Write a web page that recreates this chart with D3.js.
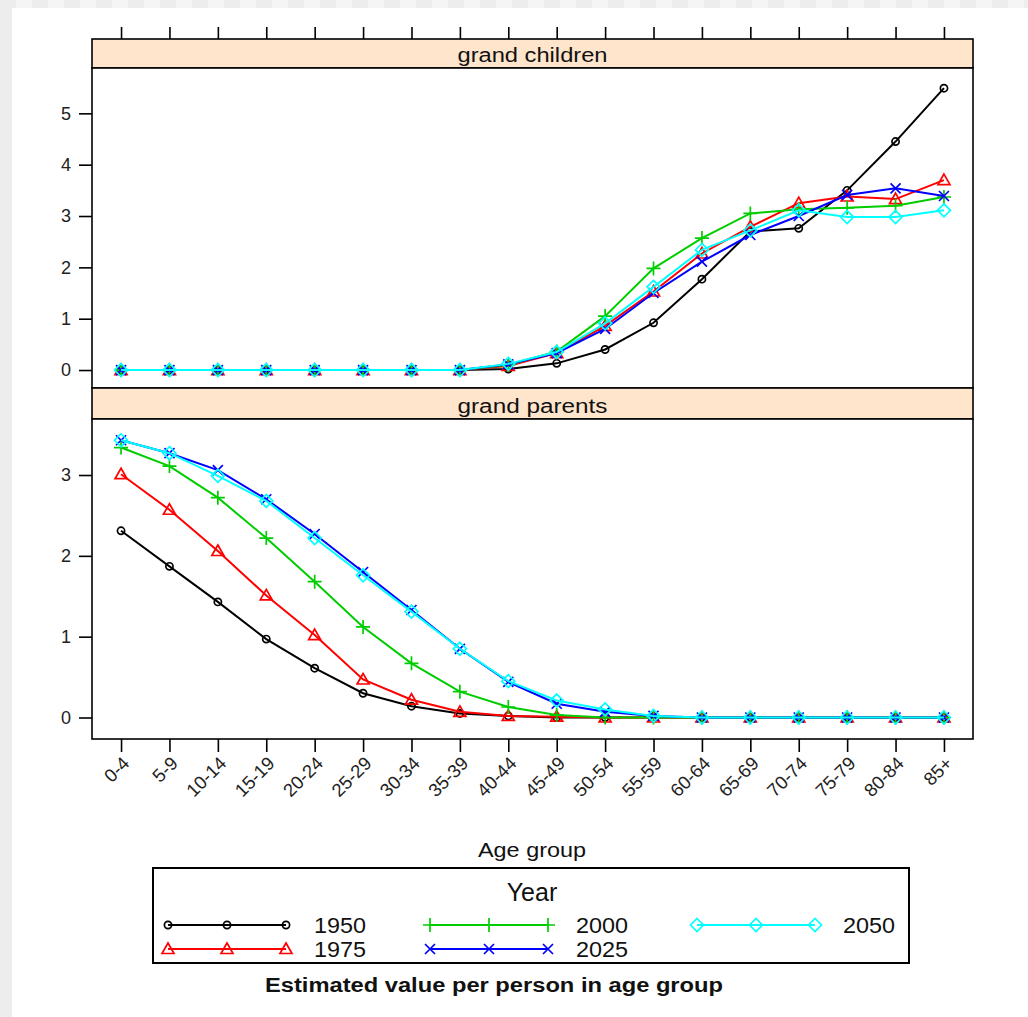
<!DOCTYPE html>
<html><head><meta charset="utf-8">
<script src="https://cdn.jsdelivr.net/npm/d3@7"></script>
<style>html,body{margin:0;padding:0;background:#fff}svg{display:block}text{font-family:"Liberation Sans",Arial,sans-serif}</style>
</head><body>
<script>
const ageGroups = ["0-4","5-9","10-14","15-19","20-24","25-29","30-34","35-39","40-44","45-49","50-54","55-59","60-64","65-69","70-74","75-79","80-84","85+"];
const years = ["1950","1975","2000","2025","2050"];
const yearColors = ["#000000","#ff0000","#00cd00","#0000ff","#00ffff"];
const yearSymbols = ["circle","triangle","plus","cross","diamond"];
const panelNames = ["grand children","grand parents"];
const topTicks = [0,1,2,3,4,5];
const bottomTicks = [0,1,2,3];

const gc1950 = [0,0,0,0,0,0,0,0,0.02,0.13,0.40,0.92,1.77,2.70,2.76,3.50,4.45,5.49];
const gc1975 = [0,0,0,0,0,0,0,0,0.08,0.33,0.86,1.53,2.27,2.79,3.25,3.38,3.33,3.70];
const gc2000 = [0,0,0,0,0,0,0,0,0.10,0.36,1.05,1.98,2.57,3.05,3.13,3.16,3.20,3.37];
const gc2025 = [0,0,0,0,0,0,0,0,0.11,0.33,0.80,1.50,2.11,2.63,3.00,3.41,3.54,3.39];
const gc2050 = [0,0,0,0,0,0,0,0,0.12,0.35,0.91,1.62,2.34,2.72,3.11,2.98,2.98,3.11];

const gp1950 = [2.31,1.87,1.43,0.97,0.61,0.30,0.14,0.05,0.02,0,0,0,0,0,0,0,0,0];
const gp1975 = [3.01,2.57,2.06,1.51,1.02,0.47,0.22,0.07,0.02,0.01,0,0,0,0,0,0,0,0];
const gp2000 = [3.34,3.11,2.72,2.22,1.68,1.12,0.67,0.32,0.13,0.03,0,0,0,0,0,0,0,0];
const gp2025 = [3.43,3.27,3.06,2.70,2.27,1.80,1.33,0.85,0.44,0.17,0.07,0.02,0,0,0,0,0,0];
const gp2050 = [3.43,3.27,2.99,2.68,2.22,1.76,1.31,0.85,0.45,0.21,0.10,0.02,0,0,0,0,0,0];

const grandChildren = [gc1950,gc1975,gc2000,gc2025,gc2050];
const grandParents = [gp1950,gp1975,gp2000,gp2025,gp2050];

const W = 1028, H = 1017;
const svg = d3.select("body").append("svg").attr("width",W).attr("height",H);

// page background (checker strip + white sheet)
const defs = svg.append("defs");
const pat = defs.append("pattern").attr("id","chk").attr("width",32).attr("height",16).attr("patternUnits","userSpaceOnUse");
pat.append("rect").attr("width",32).attr("height",16).attr("fill","#ededed");
pat.append("rect").attr("x",16).attr("width",16).attr("height",16).attr("fill","#f5f5f5");
svg.append("rect").attr("width",W).attr("height",H).attr("fill","url(#chk)");
svg.append("rect").attr("x",12).attr("y",8).attr("width",W-12).attr("height",H-8).attr("fill","#fff");

const L = 92, R = 973;
const x = d3.scaleLinear().domain([0.4, 18.6]).range([L, R]);

const panels = [
  {name: panelNames[0], data: grandChildren, stripTop: 39, top: 68, bottom: 388, y: d3.scaleLinear().domain([-0.35, 5.883]).range([388, 68]), ticks: topTicks},
  {name: panelNames[1], data: grandParents, stripTop: 388, top: 419, bottom: 739, y: d3.scaleLinear().domain([-0.266, 3.693]).range([739, 419]), ticks: bottomTicks}
];

function symbolPath(type) {
  switch (type) {
    case "circle": return d3.symbol().type(d3.symbolCircle).size(Math.PI*3.6*3.6)();
    case "triangle": return "M0,-6L6,4.5L-6,4.5Z";
    case "plus": return "M-7,0H7M0,-7V7";
    case "cross": return "M-5,-5L5,5M-5,5L5,-5";
    case "diamond": return "M0,-6.5L6.5,0L0,6.5L-6.5,0Z";
  }
}

panels.forEach(p => {
  // strip
  svg.append("rect").attr("x",L).attr("y",p.stripTop).attr("width",R-L).attr("height",p.top-p.stripTop)
    .attr("fill","#ffe5cc").attr("stroke","#000").attr("stroke-width",1.6);
  svg.append("text").attr("x",(L+R)/2).attr("y",p.top-6).attr("text-anchor","middle")
    .attr("font-size",20).attr("fill","#111").attr("textLength",150).attr("lengthAdjust","spacingAndGlyphs").text(p.name);
  // panel
  svg.append("rect").attr("x",L).attr("y",p.top).attr("width",R-L).attr("height",p.bottom-p.top)
    .attr("fill","#fff").attr("stroke","none");
  const g = svg.append("g");
  p.data.forEach((vals, k) => {
    const line = d3.line().x((d,i)=>x(i+1)).y(d=>p.y(d));
    g.append("path").attr("d", line(vals)).attr("fill","none").attr("stroke",yearColors[k]).attr("stroke-width",2);
    g.selectAll(null).data(vals).enter().append("path")
      .attr("transform",(d,i)=>`translate(${x(i+1)},${p.y(d)})`)
      .attr("d", symbolPath(yearSymbols[k]))
      .attr("fill","none").attr("stroke",yearColors[k]).attr("stroke-width",1.7);
  });
  svg.append("rect").attr("x",L).attr("y",p.top).attr("width",R-L).attr("height",p.bottom-p.top)
    .attr("fill","none").attr("stroke","#000").attr("stroke-width",1.6);
  // y axis
  const ax = svg.append("g").attr("transform",`translate(${L},0)`)
    .call(d3.axisLeft(p.y).tickValues(p.ticks).tickSize(13).tickPadding(8).tickFormat(d3.format("d")));
  ax.select(".domain").remove();
  ax.selectAll(".tick line").attr("stroke","#000").attr("stroke-width",1.6);
  ax.selectAll(".tick text").attr("font-size",18).attr("fill","#222").attr("font-family",'"Liberation Sans",Arial,sans-serif');
});

// top ticks above first strip
const topAx = svg.append("g").attr("transform",`translate(0,39)`)
  .call(d3.axisTop(x).tickValues(d3.range(1,19)).tickSize(12).tickFormat(""));
topAx.select(".domain").remove();
topAx.selectAll(".tick line").attr("stroke","#000").attr("stroke-width",1.6);

// bottom axis
const botAx = svg.append("g").attr("transform",`translate(0,739)`)
  .call(d3.axisBottom(x).tickValues(d3.range(1,19)).tickSize(13).tickFormat(""));
botAx.select(".domain").remove();
botAx.selectAll(".tick line").attr("stroke","#000").attr("stroke-width",1.6);
svg.append("g").selectAll("text").data(ageGroups).enter().append("text")
  .attr("transform",(d,i)=>`translate(${x(i+1)+5},760) rotate(-45)`)
  .attr("text-anchor","end").attr("dy","0.35em").attr("font-size",18.5).attr("fill","#222").text(d=>d);

svg.append("text").attr("x",532).attr("y",857).attr("text-anchor","middle").attr("font-size",20)
  .attr("fill","#111").attr("textLength",108).attr("lengthAdjust","spacingAndGlyphs").text("Age group");

// legend
svg.append("rect").attr("x",153).attr("y",868).attr("width",756).attr("height",95)
  .attr("fill","#fff").attr("stroke","#000").attr("stroke-width",2);
svg.append("text").attr("x",532).attr("y",901).attr("text-anchor","middle").attr("font-size",25)
  .attr("fill","#111").text("Year");
const colX = [168, 430, 697];
const rowY = [925, 949];
years.forEach((yr, k) => {
  const cx = colX[Math.floor(k/2)], cy = rowY[k%2];
  const lg = svg.append("g");
  lg.append("line").attr("x1",cx).attr("x2",cx+118).attr("y1",cy).attr("y2",cy)
    .attr("stroke",yearColors[k]).attr("stroke-width",2);
  [0,59,118].forEach(dx => lg.append("path").attr("transform",`translate(${cx+dx},${cy})`)
    .attr("d",symbolPath(yearSymbols[k])).attr("fill","none").attr("stroke",yearColors[k]).attr("stroke-width",1.7));
  lg.append("text").attr("x",cx+146).attr("y",cy+8).attr("font-size",22).attr("fill","#111")
    .attr("textLength",52).attr("lengthAdjust","spacingAndGlyphs").text(yr);
});

svg.append("text").attr("x",494).attr("y",992).attr("text-anchor","middle").attr("font-size",20)
  .attr("font-weight","bold").attr("fill","#111").attr("textLength",458).attr("lengthAdjust","spacingAndGlyphs")
  .text("Estimated value per person in age group");
</script>
</body></html>
